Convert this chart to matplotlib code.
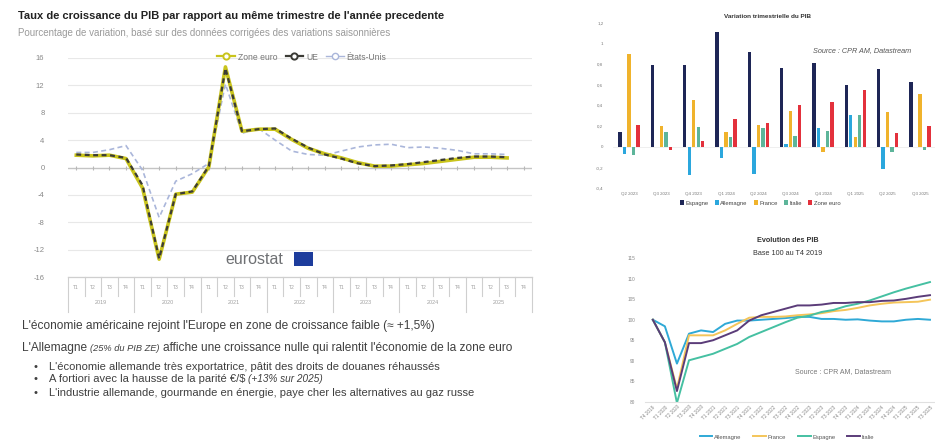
import matplotlib
matplotlib.use('Agg')
import matplotlib.pyplot as plt
import matplotlib.transforms as mtransforms
from matplotlib.patches import Rectangle, Patch
from matplotlib.lines import Line2D

# ---------------- data ----------------
# Left chart: y/y GDP growth (%), 2019 T1 .. 2025 T3
years = ['2019', '2020', '2021', '2022', '2023', '2024', '2025']
quarter_names = ['T1', 'T2', 'T3', 'T4']
zone_euro = [1.8, 1.7, 1.8, 1.3, -3.0, -13.4, -3.9, -3.6, 0.1, 14.7, 5.3, 5.6,
             5.6, 4.1, 2.8, 2.0, 1.4, 0.7, 0.2, 0.2, 0.4, 0.6, 0.9, 1.2, 1.5, 1.5, 1.4]
ue = [1.9, 1.8, 1.8, 1.4, -2.6, -13.3, -3.9, -3.5, 0.2, 14.5, 5.3, 5.6,
      5.7, 4.2, 2.9, 1.9, 1.3, 0.6, 0.2, 0.3, 0.5, 0.8, 1.1, 1.4, 1.6, 1.6, 1.5]
etats_unis = [2.2, 2.2, 2.6, 3.2, -0.4, -7.3, -2.0, -0.9, 0.6, 12.2, 5.0, 5.7,
              4.0, 2.4, 1.9, 1.8, 2.4, 3.0, 3.3, 3.4, 2.9, 3.0, 2.8, 2.5, 2.0, 2.0, 1.9]
left_yticks = [-16, -12, -8, -4, 0, 4, 8, 12, 16]

# Top-right chart: quarterly GDP change (%)
bar_quarters = ['Q2 2023', 'Q3 2023', 'Q4 2023', 'Q1 2024', 'Q2 2024',
                'Q3 2024', 'Q4 2024', 'Q1 2025', 'Q2 2025', 'Q3 2025']
espagne_q = [0.14, 0.79, 0.79, 1.11, 0.92, 0.76, 0.81, 0.60, 0.75, 0.63]
allemagne_q = [-0.07, 0.0, -0.27, -0.11, -0.26, 0.03, 0.18, 0.31, -0.21, 0.0]
france_q = [0.90, 0.20, 0.45, 0.14, 0.21, 0.35, -0.05, 0.10, 0.34, 0.51]
italie_q = [-0.08, 0.14, 0.19, 0.10, 0.18, 0.11, 0.15, 0.31, -0.05, -0.03]
zone_euro_q = [0.21, -0.03, 0.06, 0.27, 0.23, 0.40, 0.43, 0.55, 0.13, 0.20]
bar_yticks = [-0.4, -0.2, 0, 0.2, 0.4, 0.6, 0.8, 1.0, 1.2]
bar_yticklabels = ['-0,4', '-0,2', '0', '0,2', '0,4', '0,6', '0,8', '1', '1,2']

# Bottom-right chart: GDP level, base 100 = T4 2019
level_quarters = ['T4 2019', 'T1 2020', 'T2 2020', 'T3 2020', 'T4 2020', 'T1 2021',
                  'T2 2021', 'T3 2021', 'T4 2021', 'T1 2022', 'T2 2022', 'T3 2022',
                  'T4 2022', 'T1 2023', 'T2 2023', 'T3 2023', 'T4 2023', 'T1 2024',
                  'T2 2024', 'T3 2024', 'T4 2024', 'T1 2025', 'T2 2025', 'T3 2025']
allemagne_lvl = [100, 98.4, 89.3, 96.6, 97.4, 97.0, 99.0, 99.8, 99.8, 100.0, 100.2, 100.4,
                 100.7, 100.7, 100.2, 100.2, 100.0, 100.1, 99.8, 99.6, 99.6, 100.0, 100.2, 100.0]
france_lvl = [100, 94.5, 83.2, 96.2, 96.2, 96.2, 97.4, 99.0, 100.5, 100.7, 100.7, 100.8,
              101.1, 101.3, 101.6, 102.1, 102.4, 102.9, 103.5, 103.9, 104.2, 104.3, 104.4, 104.9]
espagne_lvl = [100, 94.5, 79.7, 90.1, 90.9, 91.7, 92.9, 94.1, 95.8, 97.0, 98.2, 99.4,
               100.5, 101.0, 101.9, 102.4, 103.3, 103.9, 104.7, 105.7, 106.7, 107.6, 108.4, 109.2]
italie_lvl = [100, 94.5, 82.6, 94.3, 94.3, 95.0, 96.2, 97.4, 99.8, 101.1, 101.9, 102.7,
              103.5, 103.5, 103.7, 104.1, 104.1, 104.3, 104.3, 104.6, 104.7, 105.1, 105.6, 106.0]
lvl_yticks = [80, 85, 90, 95, 100, 105, 110, 115]

# ---------------- figure ----------------
W, H = 935, 443
plt.rcParams['font.family'] = ['Liberation Sans', 'DejaVu Sans']
fig = plt.figure(figsize=(W / 100, H / 100), dpi=100)
renderer = fig.canvas.get_renderer()


def box(l, t, r, b):
    return [l / W, 1 - b / H, (r - l) / W, (b - t) / H]


def put(x, y, s, size=7, width=None, **kw):
    kw.setdefault('parse_math', False)
    t = fig.text(x / W, 1 - y / H, s, fontsize=size, **kw)
    if width:
        w = t.get_window_extent(renderer).width
        t.set_fontsize(size * width / w)
    return t


def twidth(t):
    return t.get_window_extent(renderer).width

# ---------------- left chart ----------------
put(18, 16, "Taux de croissance du PIB par rapport au même trimestre de l'année precedente",
    size=7, width=429, weight='bold', color='#222222', va='center')
put(18, 33, "Pourcentage de variation, basé sur des données corrigées des variations saisonnières",
    size=6, width=377, color='#9a9a9a', va='center')

ax1 = fig.add_axes(box(68, 58, 532, 277))
nq = len(years) * 4
ax1.set_xlim(-0.5, nq - 0.5)
ax1.set_ylim(-16, 16)
for v in left_yticks:
    if v != 0:
        ax1.axhline(v, color='#e8e8e8', lw=0.8, zorder=0)
ax1.axhline(0, color='#c4c4c4', lw=1.0, zorder=1)
ax1.plot(range(nq), [0] * nq, ls='none', marker='|', ms=3, mew=0.8, color='#b8b8b8', zorder=1)
xs = list(range(len(zone_euro)))
ax1.plot(xs, etats_unis, color='#aab6da', lw=1.2, ls=(0, (3, 2)), zorder=2)
ax1.plot(xs, zone_euro, color='#c9c41c', lw=2.6, solid_joinstyle='round', zorder=3)
ax1.plot(xs, ue, color='#3b3b36', lw=1.6, ls=(0, (2.2, 1.6)), zorder=4)
for s in ax1.spines.values():
    s.set_visible(False)
ax1.set_xticks([])
ax1.set_yticks(left_yticks)
ax1.set_yticklabels([str(v) for v in left_yticks])
ax1.tick_params(axis='y', length=0, pad=17, labelsize=5.5, labelcolor='#888888')

trans = mtransforms.blended_transform_factory(ax1.transData, ax1.transAxes)
ax1.plot([-0.5, nq - 0.5], [0, 0], color='#cfcfcf', lw=0.9, transform=trans, clip_on=False)
for i in range(nq + 1):
    yb = -0.16 if i % 4 == 0 else -0.085
    ax1.plot([i - 0.5, i - 0.5], [0, yb], color='#cfcfcf', lw=0.8, transform=trans, clip_on=False)
for i in range(nq):
    ax1.text(i, -0.048, quarter_names[i % 4], transform=trans, ha='center', va='center',
             fontsize=3.6, color='#a0a0a0')
for k, yr in enumerate(years):
    ax1.text(4 * k + 1.5, -0.118, yr, transform=trans, ha='center', va='center',
             fontsize=3.9, color='#a0a0a0')

# eurostat logo
ax1.text(0.34, 0.082, 'eurostat', transform=ax1.transAxes, fontsize=11.5, color='#6e7073',
         ha='left', va='center')
ax1.add_patch(Rectangle((0.487, 0.052), 0.041, 0.062, transform=ax1.transAxes,
                        facecolor='#1d3c9c', edgecolor='none', clip_on=False))

leg_handles = [
    Line2D([], [], color='#c9c41c', lw=1.6, marker='o', ms=4.5, mfc='white', mec='#c9c41c', mew=1.4),
    Line2D([], [], color='#3b3b36', lw=1.6, marker='o', ms=4.5, mfc='white', mec='#3b3b36', mew=1.4),
    Line2D([], [], color='#aab6da', lw=1.0, marker='o', ms=4.5, mfc='white', mec='#aab6da', mew=1.0),
]
fig.legend(leg_handles, ['Zone euro', 'UE', 'États-Unis'], loc='center',
           bbox_to_anchor=(302 / W, 1 - 57 / H), ncol=3, frameon=False, fontsize=6.2,
           handlelength=2.0, handletextpad=0.35, columnspacing=1.0, labelcolor='#777777')

# ---------------- text block ----------------
body_color = '#3f3f3f'
t1 = put(22, 328.5, "L'économie américaine rejoint l'Europe en zone de croissance faible (≈ +1,5%)",
         size=8, width=415, color=body_color, va='baseline')
fs = t1.get_fontsize()
sp = fs * 100 / 72 * 0.28

x = 22
a = put(x, 351, "L'Allemagne", size=fs, color=body_color, va='baseline')
x += twidth(a) + sp
b = put(x, 351, "(25% du PIB ZE)", size=fs * 0.78, color=body_color, va='baseline', style='italic')
x += twidth(b) + sp
put(x, 351, "affiche une croissance nulle qui ralentit l'économie de la zone euro",
    size=fs, color=body_color, va='baseline')

bt = put(49, 369.5, "L'économie allemande très exportatrice, pâtit des droits de douanes réhaussés",
         size=7, width=389, color=body_color, va='baseline')
fb = bt.get_fontsize()
x = 49
c = put(x, 382.5, "A fortiori avec la hausse de la parité €/$", size=fb, color=body_color, va='baseline')
x += twidth(c) + fb * 100 / 72 * 0.28
put(x, 382.5, "(+13% sur 2025)", size=fb * 0.9, color=body_color, va='baseline', style='italic')
put(49, 395.5, "L'industrie allemande, gourmande en énergie, paye cher les alternatives au gaz russe",
    size=fb, color=body_color, va='baseline')
for yb in (369.5, 382.5, 395.5):
    put(33, yb, "•", size=fb, color=body_color, va='baseline')

# ---------------- top-right bar chart ----------------
ax2 = fig.add_axes(box(613, 22.7, 936, 188.3))
ax2.set_xlim(-0.5, len(bar_quarters) - 0.5)
ax2.set_ylim(-0.4, 1.2)
series = [(espagne_q, '#1e2656', 'Espagne'), (allemagne_q, '#2ba7dd', 'Allemagne'),
          (france_q, '#f0b32c', 'France'), (italie_q, '#5db59a', 'Italie'),
          (zone_euro_q, '#e3313c', 'Zone euro')]
step, bw = 0.14, 0.105
for j, (vals, col, lab) in enumerate(series):
    ax2.bar([i + (j - 2) * step for i in range(len(bar_quarters))], vals, width=bw,
            color=col, label=lab, zorder=2)
ax2.axhline(0, color='#ececec', lw=0.6, zorder=1)
for s in ax2.spines.values():
    s.set_visible(False)
ax2.set_yticks(bar_yticks)
ax2.set_yticklabels(bar_yticklabels)
ax2.set_xticks(range(len(bar_quarters)))
ax2.set_xticklabels(bar_quarters)
ax2.tick_params(length=0, labelsize=3.2, labelcolor='#777777')
ax2.tick_params(axis='y', pad=7)
ax2.tick_params(axis='x', pad=3)
fig.text(767 / W, 1 - 17 / H, 'Variation trimestrielle du PIB', ha='center', va='center',
         fontsize=4.6, weight='bold', color='#333333')
fig.text(862 / W, 1 - 51 / H, 'Source : CPR AM, Datastream', ha='center', va='center',
         fontsize=5.2, style='italic', color='#555555')
bar_handles = [Patch(facecolor=c, edgecolor='none') for _, c, _ in series]
fig.legend(bar_handles, [l for _, _, l in series], loc='center',
           bbox_to_anchor=(760 / W, 1 - 203 / H), ncol=5, frameon=False, fontsize=4.2,
           handlelength=0.7, handleheight=0.7, handletextpad=0.3, columnspacing=1.0,
           labelcolor='#444444')

# ---------------- bottom-right line chart ----------------
ax3 = fig.add_axes(box(645, 258.3, 936, 401.7))
ax3.set_xlim(-0.65, 23.5)
ax3.set_ylim(80, 115)
xl = range(len(level_quarters))
ax3.plot(xl, allemagne_lvl, color='#2fa9d6', lw=1.4, label='Allemagne')
ax3.plot(xl, france_lvl, color='#f4c55a', lw=1.4, label='France')
ax3.plot(xl, espagne_lvl, color='#45c0a2', lw=1.4, label='Espagne')
ax3.plot(xl, italie_lvl, color='#5b3c79', lw=1.4, label='Italie')
for s in ['top', 'right', 'left']:
    ax3.spines[s].set_visible(False)
ax3.spines['bottom'].set_color('#e0e0e0')
ax3.set_yticks(lvl_yticks)
ax3.set_yticklabels([str(v) for v in lvl_yticks])
ax3.set_xticks(list(xl))
ax3.set_xticklabels(level_quarters, rotation=45, ha='right', rotation_mode='anchor')
ax3.tick_params(length=0, labelsize=3.4, labelcolor='#888888')
ax3.tick_params(axis='y', pad=7)
ax3.tick_params(axis='x', pad=2)
fig.text(788 / W, 1 - 240 / H, 'Evolution des PIB', ha='center', va='center',
         fontsize=5.2, weight='bold', color='#333333')
fig.text(788 / W, 1 - 253 / H, 'Base 100 au T4 2019', ha='center', va='center',
         fontsize=5.2, color='#333333')
fig.text(843 / W, 1 - 372 / H, 'Source : CPR AM, Datastream', ha='center', va='center',
         fontsize=5.0, color='#777777')
h3, l3 = ax3.get_legend_handles_labels()
fig.legend(h3, l3, loc='center', bbox_to_anchor=(787 / W, 1 - 437 / H), ncol=4,
           frameon=False, fontsize=4.2, handlelength=2.2, handletextpad=0.3,
           columnspacing=2.0, labelcolor='#555555')

fig.savefig('out.png', dpi=100, facecolor='white')
